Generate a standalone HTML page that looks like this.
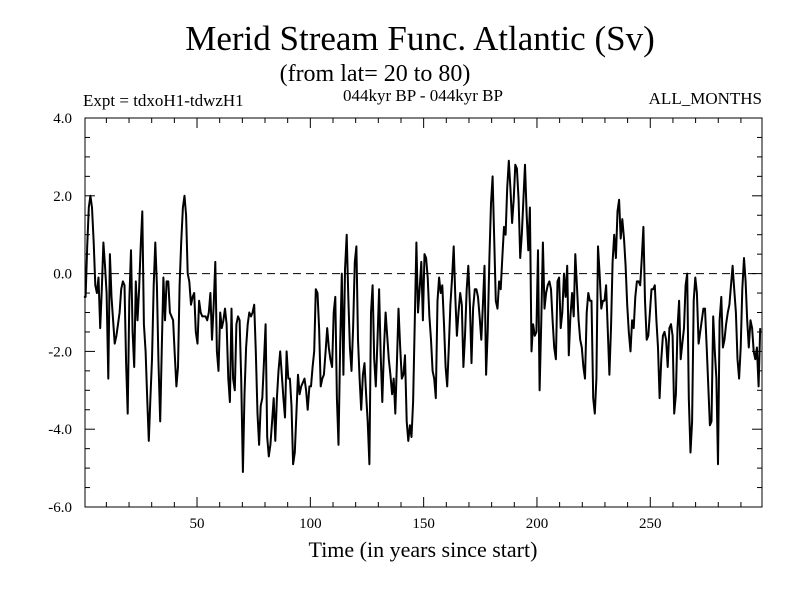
<!DOCTYPE html>
<html><head><meta charset="utf-8"><style>
body{margin:0;background:#fff;}
svg{display:block;font-family:"Liberation Serif",serif;}
</style></head><body>
<svg id="chart" width="800" height="600" viewBox="0 0 800 600">
<rect width="800" height="600" fill="#fff"/>
<text x="420" y="50" font-size="35" text-anchor="middle">Merid Stream Func. Atlantic (Sv)</text>
<text x="375" y="81" font-size="24" text-anchor="middle">(from lat= 20 to 80)</text>
<text x="83" y="106" font-size="17">Expt = tdxoH1-tdwzH1</text>
<text x="423" y="101" font-size="17" text-anchor="middle">044kyr BP - 044kyr BP</text>
<text x="762" y="104" font-size="17" text-anchor="end">ALL_MONTHS</text>
<text x="423" y="557" font-size="22" text-anchor="middle">Time (in years since start)</text>
<g id="axes"></g>
<g id="series"></g>
</svg>
<script>
const yTickValues=[-6,-4,-2,0,2,4];
const yTickLabels=["-6.0","-4.0","-2.0","0.0","2.0","4.0"];
const xTickValues=[50,100,150,200,250];
const xTickLabels=["50","100","150","200","250"];
const tStart=0.1, tEnd=298.5;
const streamValues=[
-0.6,-0.6,0.7,1.7,2.0,1.7,0.8,-0.3,-0.5,-0.1,-1.4,-0.4,0.8,0.2,-0.5,-2.7,0.5,-0.6,-1.2,-1.8,-1.6,-1.3,-1.0,-0.4,-0.2,-0.3,-2.3,-3.6,-0.7,0.6,-1.5,-2.4,-0.2,-1.2,-0.4,0.7,1.6,-1.3,-2.0,-3.2,-4.3,-3.2,-2.2,-0.3,0.8,-0.3,-2.3,-3.8,-1.9,-0.1,-1.2,-0.2,-0.2,-1.0,-1.1,-1.2,-2.1,-2.9,-2.4,-0.3,0.8,1.7,2.0,1.5,0.0,-0.2,-0.8,-0.6,-0.5,-1.5,-1.8,-0.7,
-1.0,-1.1,-1.1,-1.1,-1.2,-1.0,-0.5,-1.7,-0.8,0.3,-2.0,-2.5,-1.0,-1.4,-1.2,-0.9,-1.3,-2.7,-3.3,-0.9,-2.7,-3.0,-1.3,-1.1,-1.2,-2.7,-5.1,-3.1,-1.9,-1.3,-1.0,-1.1,-1.0,-0.8,-2.0,-3.6,-4.4,-3.4,-3.2,-2.3,-1.3,-4.2,-4.7,-4.4,-3.8,-3.2,-4.3,-3.2,-2.5,-2.0,-2.6,-3.2,-3.7,-2.0,-2.7,-2.7,-3.4,-4.9,-4.6,-3.6,-2.6,-3.1,-2.9,-2.8,-2.7,-3.0,-3.5,-2.9,
-2.9,-2.4,-2.0,-0.4,-0.5,-1.4,-2.9,-2.7,-2.6,-2.0,-1.4,-1.9,-2.2,-2.4,-1.0,-0.6,-3.2,-4.4,-1.8,0.0,-2.6,0.1,1.0,-0.6,-1.9,-2.5,-1.4,0.3,0.7,-1.7,-2.7,-3.5,-2.6,-2.3,-3.1,-3.8,-4.9,-1.0,-0.3,-2.2,-2.9,-1.7,-0.4,-2.1,-3.3,-1.9,-1.0,-1.6,-2.2,-2.6,-3.1,-2.7,-3.6,-2.3,-0.9,-1.9,-2.7,-2.6,-2.1,-3.8,-4.3,-3.9,-4.2,-3.3,-1.2,0.8,-1.0,-0.4,0.3,-1.2,0.5,
0.4,-0.1,-1.1,-1.7,-2.5,-2.7,-3.2,-0.7,-0.1,-0.5,-0.3,-1.3,-2.4,-2.9,-1.9,-0.8,-0.1,0.7,-0.6,-1.6,-1.0,-0.5,-0.8,-2.4,-1.6,-0.4,0.2,-0.8,-2.3,-0.9,-0.4,-0.4,-0.6,-1.1,-1.7,-0.8,0.2,-2.6,-1.5,0.4,1.8,2.5,0.9,-0.7,-0.9,-0.2,-0.4,0.4,1.2,1.0,2.2,2.9,2.2,1.3,1.9,2.8,2.7,1.9,0.4,1.0,1.9,2.8,1.5,0.6,1.7,-2.0,-1.3,-1.6,-1.5,0.6,-3.0,
-1.2,0.8,-0.9,-0.5,-0.3,-0.2,-0.4,-1.2,-1.9,-2.2,-0.2,-0.1,-1.4,-1.0,0.0,-0.6,0.2,-2.1,-1.1,-0.5,-1.1,0.5,-0.3,-1.2,-1.7,-1.9,-2.4,-2.7,-1.0,-0.5,-0.7,-0.7,-3.2,-3.6,-2.7,0.7,0.0,-0.9,-0.7,-0.7,-0.3,-1.4,-2.6,-1.4,0.3,1.0,0.4,1.6,1.9,0.9,1.4,0.9,0.2,-0.8,-1.5,-2.0,-1.2,-1.4,-0.6,-0.2,-0.2,-0.3,0.4,1.2,-0.7,-1.7,-1.6,-1.0,-0.4,
-0.4,-0.3,-1.2,-1.9,-3.2,-2.2,-1.6,-1.5,-1.7,-2.4,-1.4,-1.3,-1.6,-3.6,-3.1,-1.4,-0.7,-2.2,-1.8,-1.4,-0.3,0.0,-3.2,-4.6,-3.8,-0.7,-0.1,-0.5,-1.8,-1.5,-1.2,-0.9,-0.9,-1.9,-2.9,-3.9,-3.8,-1.1,-2.0,-2.7,-4.9,-1.2,-0.6,-1.9,-1.7,-1.3,-1.0,-0.8,-0.3,0.2,-0.4,-1.0,-2.2,-2.7,-1.9,-0.4,0.4,-0.2,-1.2,-1.9,-1.2,-1.4,-2.0,-2.2,-1.9,-2.9,-1.4
];
const L=85,R=762,T=118,B=507;
const xMin=0.57,xMax=299.3,yMin=-6,yMax=4;
const xs=v=>L+(v-xMin)/(xMax-xMin)*(R-L);
const ys=v=>B-(v-yMin)/(yMax-yMin)*(B-T);
const NS="http://www.w3.org/2000/svg";
const axes=document.getElementById('axes');
function mk(tag,attrs,parent){const e=document.createElementNS(NS,tag);for(const k in attrs)e.setAttribute(k,attrs[k]);parent.appendChild(e);return e;}
const frame=mk('rect',{x:L,y:T,width:R-L,height:B-T,fill:'none',stroke:'#000','stroke-width':1},axes);


const zl=mk('line',{x1:L,x2:R,y1:ys(0),y2:ys(0),stroke:'#000','stroke-width':1,'stroke-dasharray':'8,5'},axes);


for(let v=yMin;v<=yMax+1e-9;v+=0.5){
  const major=Math.abs(v-Math.round(v/2)*2)<1e-9;const len=major?10:5;const y=ys(v);
  const t1=mk('line',{x1:L,x2:L+len,y1:y,y2:y,stroke:'#000'},axes);
  
  
  const t2=mk('line',{x1:R-len,x2:R,y1:y,y2:y,stroke:'#000'},axes);
  
  
}
yTickValues.forEach((v,i)=>{
  const t=mk('text',{x:72,y:ys(v)+5,'font-size':15,'text-anchor':'end'},axes);t.textContent=yTickLabels[i];
  
  
});
for(let v=10;v<xMax;v+=10){
  const major=v%50===0;const len=major?10:5;const x=xs(v);
  const t1=mk('line',{x1:x,x2:x,y1:B,y2:B-len,stroke:'#000'},axes);
  
  
  const t2=mk('line',{x1:x,x2:x,y1:T,y2:T+len,stroke:'#000'},axes);
  
  
}
xTickValues.forEach((v,i)=>{
  const t=mk('text',{x:xs(v),y:528,'font-size':15,'text-anchor':'middle'},axes);t.textContent=xTickLabels[i];
  
  
});
const n=streamValues.length;
const pts=streamValues.map((v,i)=>{const t=tStart+i*(tEnd-tStart)/(n-1);return xs(t).toFixed(1)+','+ys(v).toFixed(1);}).join(' ');
const line=mk('polyline',{points:pts,fill:'none',stroke:'#000','stroke-width':2,'stroke-linejoin':'round'},document.getElementById('series'));


</script>
</body></html>
